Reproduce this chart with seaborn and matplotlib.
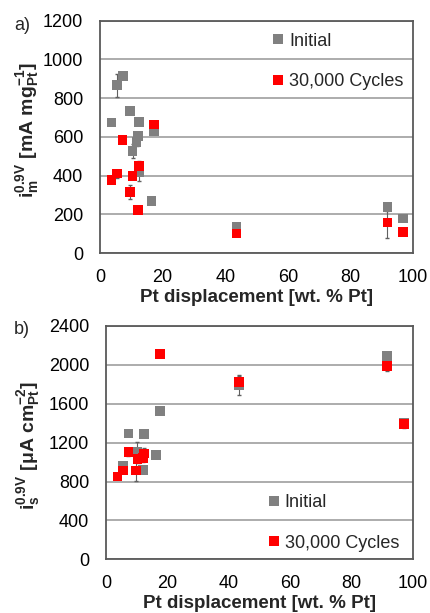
import numpy as np
import pandas as pd
import matplotlib
matplotlib.use("Agg")
import matplotlib.pyplot as plt
import seaborn as sns

# ---- data ----
series_names = ["Initial", "30,000 Cycles"]
x_ticks = [0, 20, 40, 60, 80, 100]
y_ticks_a = [0, 200, 400, 600, 800, 1000, 1200]
y_ticks_b = [0, 400, 800, 1200, 1600, 2000, 2400]

x_init_a = [3.7, 5.5, 7.4, 9.6, 10.4, 11.7, 12.2, 12.4, 12.4, 16.5, 17.2, 43.6, 91.8, 96.8]
y_init_a = [675, 867, 914, 734, 526, 574, 605, 677, 419, 269, 631, 134, 238, 178]
e_init_a = [15, 60, 15, 15, 35, 20, 20, 15, 45, 10, 15, 10, 20, 10]

x_cyc_a = [3.7, 5.5, 7.2, 9.6, 10.4, 12.4, 12.2, 17.3, 43.6, 91.8, 96.8]
y_cyc_a = [376, 410, 583, 315, 397, 448, 221, 664, 100, 157, 109]
e_cyc_a = [10, 20, 10, 35, 15, 25, 10, 15, 10, 80, 10]

x_init_b = [3.7, 5.6, 7.3, 10.0, 12.1, 12.4, 16.3, 17.6, 43.4, 91.6, 97.0]
y_init_b = [850, 960, 1296, 1107, 919, 1286, 1073, 1526, 1793, 2091, 1399]
e_init_b = [15, 20, 20, 100, 30, 20, 15, 15, 100, 30, 40]

x_cyc_b = [3.7, 5.6, 7.3, 9.7, 10.3, 12.1, 12.4, 17.6, 43.4, 91.6, 97.0]
y_cyc_b = [850, 912, 1101, 912, 1029, 1039, 1090, 2109, 1827, 1989, 1390]
e_cyc_b = [15, 20, 40, 110, 40, 40, 50, 20, 60, 50, 40]

colors = {"Initial": "#808080", "30,000 Cycles": "#ff0000"}

sns.set_style("white")
plt.rcParams["font.family"] = ["Liberation Sans", "DejaVu Sans"]
plt.rcParams["mathtext.fontset"] = "custom"
plt.rcParams["mathtext.rm"] = "Liberation Sans"
plt.rcParams["mathtext.bf"] = "Liberation Sans:bold"
plt.rcParams["mathtext.it"] = "Liberation Sans:italic"
plt.rcParams["mathtext.default"] = "bf"

fig = plt.figure(figsize=(4.3, 6.13), dpi=100)
W, H = 430, 613
ax_a = fig.add_axes([100 / W, 1 - 253 / H, 313 / W, (253 - 20.7) / H])
ax_b = fig.add_axes([106 / W, 1 - 559.3 / H, 307 / W, (559.3 - 326) / H])


def panel(ax, xi, yi, ei, xc, yc, ec, yticks, ylabel, legend_xy, label_xy):
    df = pd.DataFrame({
        "x": list(xi) + list(xc),
        "y": list(yi) + list(yc),
        "series": [series_names[0]] * len(xi) + [series_names[1]] * len(xc),
    })
    ax.errorbar(xi, yi, yerr=ei, fmt="none", ecolor="#606060", elinewidth=0.8,
                capsize=1.5, zorder=1)
    ax.errorbar(xc, yc, yerr=ec, fmt="none", ecolor="#606060", elinewidth=0.8,
                capsize=1.5, zorder=1)
    sns.scatterplot(data=df, x="x", y="y", hue="series", palette=colors,
                    marker="s", s=48, linewidth=0, ax=ax, zorder=3, legend=False)
    ax.set_xlim(0, 100)
    ax.set_ylim(yticks[0], yticks[-1])
    ax.set_xticks(x_ticks)
    ax.set_yticks(yticks)
    ax.yaxis.grid(True, color="#a6a6a6", linewidth=1.3)
    ax.xaxis.grid(False)
    ax.set_axisbelow(True)
    for sp in ax.spines.values():
        sp.set_color("#595959")
        sp.set_linewidth(1.3)
    ax.tick_params(axis="both", labelsize=13, colors="black")
    ax.tick_params(axis="y", direction="in", length=5, width=1.2, color="#595959", pad=12)
    ax.tick_params(axis="x", direction="in", length=5, width=1.2, color="#595959", pad=11.5)
    ax.set_xlabel("Pt displacement [wt. % Pt]", fontsize=13.5, fontweight="bold", labelpad=2)
    ax.set_ylabel(ylabel, fontsize=14, fontweight="bold")
    ax.yaxis.set_label_coords(*label_xy)
    handles = [plt.Line2D([], [], marker="s", linestyle="none", markersize=7,
                          markerfacecolor=colors[n], markeredgewidth=0) for n in series_names]
    ax.legend(handles, series_names, loc="upper left", bbox_to_anchor=legend_xy,
              frameon=False, fontsize=13, labelspacing=1.3, handletextpad=0.1,
              handlelength=1.0, borderaxespad=0)


panel(ax_a, x_init_a, y_init_a, e_init_a, x_cyc_a, y_cyc_a, e_cyc_a, y_ticks_a,
      r"$i_m^{0.9V}$ [mA mg$_{Pt}^{-1}$]", (0.518, 0.98), (-0.188, 0.527))
panel(ax_b, x_init_b, y_init_b, e_init_b, x_cyc_b, y_cyc_b, e_cyc_b, y_ticks_b,
      r"$i_s^{0.9V}$ [$\mathbf{\mu}$A cm$_{Pt}^{-2}$]", (0.494, 0.31), (-0.21, 0.49))

fig.text(14 / W, 1 - 25 / H, "a)", fontsize=13, ha="left", va="center")
fig.text(14 / W, 1 - 330 / H, "b)", fontsize=13, ha="left", va="center")

fig.savefig("out.png", dpi=100)
